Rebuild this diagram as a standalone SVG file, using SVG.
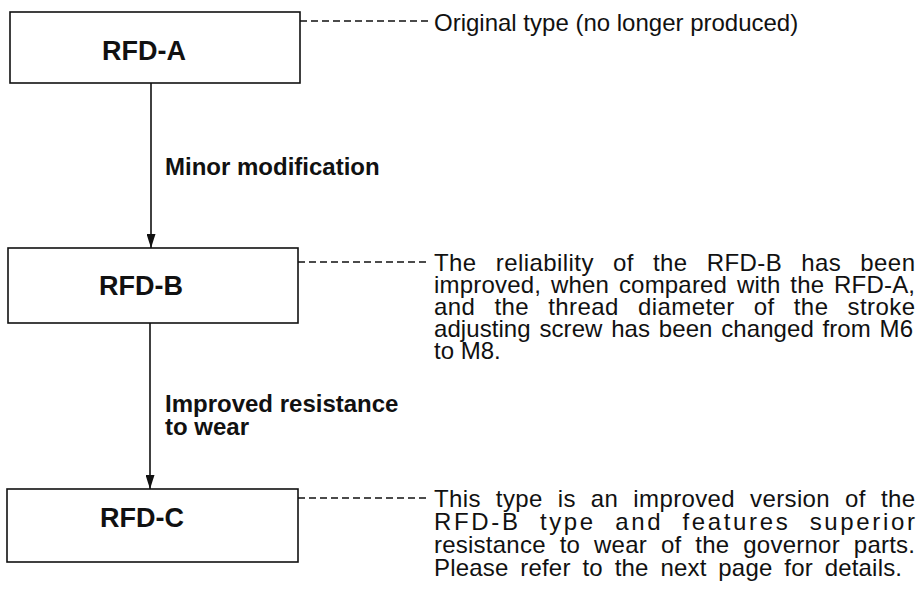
<svg xmlns="http://www.w3.org/2000/svg" width="924" height="590" viewBox="0 0 924 590">
<style>
.box{fill:#fff;stroke:#111;stroke-width:1.6}
.lbl{font-family:"Liberation Sans",Arial,sans-serif;font-weight:bold;font-size:27px;fill:#111;text-anchor:middle}
.edge{font-family:"Liberation Sans",Arial,sans-serif;font-weight:bold;font-size:24px;fill:#111}
.note{font-family:"Liberation Sans",Arial,sans-serif;font-size:24px;fill:#111}
.arrow{stroke:#111;stroke-width:1.6;fill:none}
.dash{stroke:#111;stroke-width:1.3;stroke-dasharray:7 4;fill:none}
</style>
<defs>
<marker id="ah" viewBox="0 0 14 9" refX="14" refY="4.5" markerWidth="14" markerHeight="9" markerUnits="userSpaceOnUse" orient="auto">
<path d="M0,0 L14,4.5 L0,9 z" fill="#111"/>
</marker>
</defs>
<rect width="924" height="590" fill="#fff"/>
<g id="connectors">
<line class="arrow" x1="151" y1="83" x2="151" y2="248" marker-end="url(#ah)"/>
<line class="arrow" x1="150" y1="323" x2="150" y2="489" marker-end="url(#ah)"/>
<line class="dash" x1="300" y1="21" x2="429" y2="21"/>
<line class="dash" x1="298" y1="262" x2="429" y2="262"/>
<line class="dash" x1="298" y1="498" x2="429" y2="498"/>
<text class="edge" x="165" y="175">Minor modification</text>
<text class="edge" x="165" y="412">Improved resistance</text>
<text class="edge" x="165" y="435">to wear</text>
</g>
<g id="rfd-a">
<rect class="box" x="10" y="12" width="290" height="71"/>
<text class="lbl" x="144" y="60">RFD-A</text>
</g>
<g id="rfd-b">
<rect class="box" x="8" y="248" width="290" height="75"/>
<text class="lbl" x="141" y="295">RFD-B</text>
</g>
<g id="rfd-c">
<rect class="box" x="7" y="489" width="291" height="73"/>
<text class="lbl" x="142" y="527">RFD-C</text>
</g>
<g id="note-a">
<text class="note" x="434" y="31">Original type (no longer produced)</text>
</g>
<g id="note-b">
<text class="note" x="434" y="271" textLength="481" lengthAdjust="spacing" word-spacing="12">The reliability of the RFD-B has been</text>
<text class="note" x="434" y="293" textLength="481" lengthAdjust="spacing" word-spacing="3">improved, when compared with the RFD-A,</text>
<text class="note" x="434" y="315" textLength="481" lengthAdjust="spacing" word-spacing="12">and the thread diameter of the stroke</text>
<text class="note" x="434" y="337" textLength="479" lengthAdjust="spacing" word-spacing="2">adjusting screw has been changed from M6</text>
<text class="note" x="434" y="359">to M8.</text>
</g>
<g id="note-c">
<text class="note" x="434" y="507" textLength="481" lengthAdjust="spacing" word-spacing="8">This type is an improved version of the</text>
<text class="note" x="434" y="530" textLength="481" lengthAdjust="spacing" word-spacing="10">RFD-B type and features superior</text>
<text class="note" x="434" y="553" textLength="481" lengthAdjust="spacing" word-spacing="7">resistance to wear of the governor parts.</text>
<text class="note" x="434" y="576" textLength="468" lengthAdjust="spacing" word-spacing="5">Please refer to the next page for details.</text>
</g>
</svg>
